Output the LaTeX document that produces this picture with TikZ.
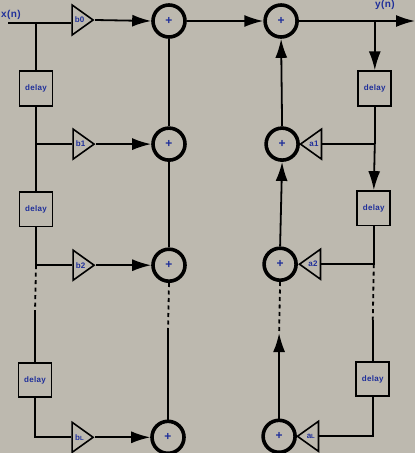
\documentclass[tikz,border=0pt]{standalone}
\usepackage{fontspec}
\setmainfont{Liberation Sans}[LetterSpace=4]
\usepackage{xcolor}
\usetikzlibrary{shapes.geometric,arrows.meta,positioning}
\definecolor{panel}{HTML}{BDB9AF}
\definecolor{ink}{HTML}{1F2F9A}

\begin{document}
\begin{tikzpicture}[x=1pt, y=-1pt, >={Latex[length=19pt,width=12pt]}, line width=1.8pt,
  font=\fontsize{8}{9}\selectfont\bfseries,
  sumnode/.style={draw, circle, line width=3.6pt, minimum size=32pt, inner sep=0pt, text=ink, font=\fontsize{12}{12}\selectfont\bfseries},
  delaybox/.style={draw, minimum width=33pt, minimum height=34.5pt, inner sep=0pt, text=ink},
  gain/.style={draw, isosceles triangle, isosceles triangle stretches, minimum width=30pt, minimum height=21pt, inner sep=0pt, line width=1.6pt, text=ink},
  gainrev/.style={gain, shape border rotate=180},
  dots/.style={dash pattern=on 4pt off 3.5pt},
  sig/.style={text=ink, font=\fontsize{10}{11}\selectfont\bfseries}]
\useasboundingbox[fill=panel] (0,0) rectangle (415,453);
% adders
\node[sumnode] (s0) at (169,21) {+};
\node[sumnode, below=87.5pt of s0] (s1) {+};
\node[sumnode, below=85.5pt of s1] (s2) {+};
\node[sumnode, below=136.5pt of s2, xshift=-1pt] (s3) {+};
\node[sumnode, right=76.5pt of s0] (r0) {+};
\node[sumnode, below=87.5pt of r0, xshift=1pt] (r1) {+};
\node[sumnode, below=84.5pt of r1, xshift=-2pt] (r2) {+};
\node[sumnode, below=136.5pt of r2, xshift=-1pt] (r3) {+};
% gains
\node[gain, left=56pt of s0, yshift=1pt] (b0) {b0};
\node[gain, left=55pt of s1] (b1) {b1};
\node[gain, left=55pt of s2] (b2) {b2};
\node[gain, left=55pt of s3] (bL) {b{\fontsize{6}{7}\selectfont L}};
\node[gainrev, right=-1.5pt of r1] (a1) {a1};
\node[gainrev, right=-0.5pt of r2] (a2) {a2};
\node[gainrev, right=-1.5pt of r3] (aL) {a{\fontsize{6}{7}\selectfont L}};
% delays
\node[delaybox] (d0) at (36,88.5) {delay};
\node[delaybox, below=84.5pt of d0] (d1) {delay};
\node[delaybox, below=134.5pt of d1, xshift=-1pt] (d2) {delay};
\node[delaybox, right=304pt of d0] (e0) {delay};
\node[delaybox, below=83.5pt of e0, xshift=-1pt] (e1) {delay};
\node[delaybox, below=134.5pt of e1, xshift=-1pt] (e2) {delay};
% signal names
\node[sig] (xn) at (11,15) {x(n)};
\node[sig] (yn) at (385,5) {y(n)};
% branch points
\coordinate (in) at (8,23);
\coordinate (out) at (415,21);
\coordinate (j0) at (d0.north |- in);
\coordinate (j1) at (d0.south |- b1.west);
\coordinate (j2) at (d1.south |- b2.west);
\coordinate (j3) at (d2.south |- bL.west);
\coordinate (k0) at (d2.north |- 0,312);
\coordinate (k1) at (s3.north |- 0,331);
\coordinate (k2) at (r3.north |- 0,333);
\coordinate (h0) at (e0.north |- out);
\coordinate (h1) at (e0.south |- a1.east);
\coordinate (h2) at (e1.south |- a2.east);
\coordinate (h3) at (e2.south |- aL.east);
\coordinate (k3) at (e2.north |- 0,320);
% feed-forward side
\draw (in)--(j0 -| b0.west);
\draw (j0)--(d0.north);
\draw (d0.south)--(j1)--(d1.north);
\draw (j1)--(b1.west);
\draw (d1.south)--(j2)--(b2.west);
\draw[dots] (j2)--(k0);
\draw (k0)--(d2.north);
\draw (d2.south)--(j3)--(bL.west);
\draw[->] (b0.east)--(s0.west);
\draw[->] (b1.east)--(s1.west);
\draw[->] (b2.east)--(s2.west);
\draw[->] (bL.east)--(s3.west);
\draw (s0.south)--(s1.north);
\draw (s1.south)--(s2.north);
\draw[dots] (s2.south)--(k1);
\draw (k1)--(s3.north);
% feedback side
\draw[->] (s0.east)--(r0.west);
\draw[->] (r0.east)--(out);
\draw[->] (h0)--(e0.north);
\draw (e0.south)--(h1);
\draw[->] (h1)--(e1.north);
\draw (h1)--(a1.east);
\draw (e1.south)--(h2)--(a2.east);
\draw[dots] (h2)--(k3);
\draw (k3)--(e2.north);
\draw (e2.south)--(h3)--(aL.east);
\draw[->] (r1.north)--(r0.south);
\draw[->] (r2.north)--(r1.south);
\draw[dots] (r2.south)--(k2);
\draw[->] (r3.north)--(k2);
\end{tikzpicture}
\end{document}
